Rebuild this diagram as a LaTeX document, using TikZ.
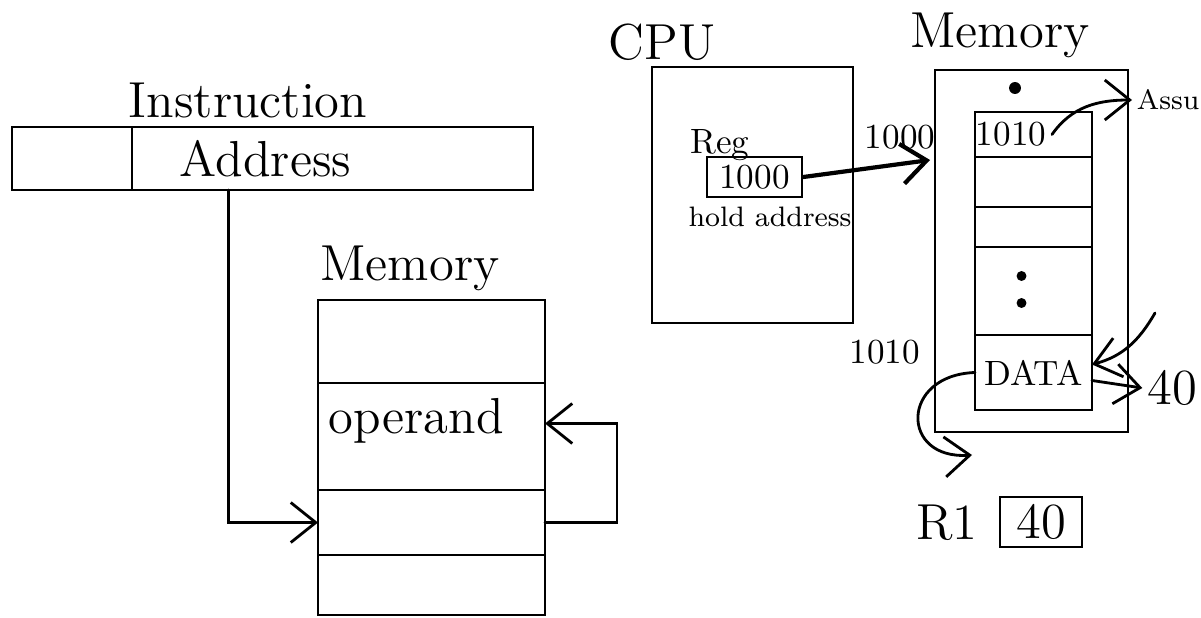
\documentclass[tikz,border=0pt]{standalone}
\usetikzlibrary{positioning, calc, arrows.meta}

\begin{document}
\begin{tikzpicture}[x=1cm, y=1cm, >={Straight Barb[length=2.5mm,width=4mm]}, thick, line cap=round,
    cell/.style={draw, rectangle, inner sep=0pt, outer sep=0pt, font=\Large},
    slot/.style={draw, rectangle, inner sep=0pt, outer sep=0pt, minimum width=1.17cm, font=\normalsize},
    lbl/.style={font=\Large, inner sep=1pt}]
\useasboundingbox (0,0) rectangle (12.01,-6.18);

% Instruction format
\node[lbl] (instr) at (2.48,-1.0) {Instruction};
\node[cell, minimum width=1.2cm, minimum height=0.63cm] (opcode) at (0.72,-1.585) {};
\node[cell, minimum width=4.01cm, minimum height=0.63cm, right=0pt of opcode] (addr) {Address\hspace*{1.34cm}};

% Memory (left)
\node[lbl] (memL) at (4.1,-2.68) {Memory};
\node[cell, minimum width=2.27cm, minimum height=0.83cm] (lc1) at (4.315,-3.415) {};
\node[cell, minimum width=2.27cm, minimum height=1.07cm, below=0pt of lc1] (lc2) {};
\node[cell, minimum width=2.27cm, minimum height=0.65cm, below=0pt of lc2] (lc3) {};
\node[cell, minimum width=2.27cm, minimum height=0.60cm, below=0pt of lc3] (lc4) {};
\node[lbl, anchor=north west] (opnd) at ([xshift=0.06cm,yshift=-0.1cm]lc2.north west) {operand};

\draw[->] ([xshift=-1.04cm]addr.south) |- (lc3.west);
\draw[->] (lc3.east) -- ++(0.72,0) |- ([yshift=0.13cm]lc2.east);

% CPU
\node[lbl] (cpu) at (6.62,-0.42) {CPU};
\node[draw, minimum width=2.01cm, minimum height=2.56cm] (cpubox) at (7.525,-1.95) {};
\node[draw, minimum width=0.95cm, minimum height=0.4cm, inner sep=0pt] (reg) at (7.545,-1.77) {1000};
\node (reglbl) at (7.2,-1.45) {Reg};
\node[font=\footnotesize] (hold) at (7.7,-2.17) {hold address};

% Memory (right)
\node[lbl] (memR) at (10.0,-0.35) {Memory};
\node[draw, minimum width=1.93cm, minimum height=3.62cm] (memout) at (10.315,-2.51) {};
\node[circle, fill, inner sep=1.2pt] (dot0) at (10.15,-0.88) {};
\node[slot, minimum height=0.45cm] (mc1) at (10.335,-1.345) {1010\hspace*{0.45cm}};
\node[slot, minimum height=0.50cm, below=0pt of mc1] (mc2) {};
\node[slot, minimum height=0.40cm, below=0pt of mc2] (mc3) {};
\node[slot, minimum height=0.88cm, below=0pt of mc3] (mgap) {};
\node[slot, minimum height=0.75cm, below=0pt of mgap] (mdata) {DATA};
\node[circle, fill, inner sep=1pt] (dot1) at ([xshift=-0.12cm,yshift=0.15cm]mgap.center) {};
\node[circle, fill, inner sep=1pt] (dot2) at ([xshift=-0.12cm,yshift=-0.12cm]mgap.center) {};

\node[lbl] (a1000) at (9.0,-1.37) {\normalsize 1000};
\coordinate (in1000) at (9.3,-1.6);
\draw[->, very thick] (reg.east) -- (in1000);

\node[anchor=east] (a1010) at (9.33,-3.52) {1010};

\node[font=\footnotesize, anchor=west, inner sep=1pt] (assu) at (11.32,-1.0) {Assu};
\draw[->] ([xshift=-0.4cm]mc1.east) to[out=55,in=180] (assu.west);

\coordinate (datasrc) at (11.55,-3.13);
\draw[->] (datasrc) to[out=240,in=15] ([yshift=0.08cm]mdata.east);
\node[lbl] (v40) at (11.72,-3.88) {40};
\draw[->] ([yshift=-0.08cm]mdata.east) -- (v40.west);

% Register R1
\coordinate (toR1) at (9.72,-4.55);
\draw[->] (mdata.west) .. controls (9.0,-3.75) and (9.0,-4.6) .. (toR1);
\node[lbl] (r1) at (9.47,-5.23) {R1};
\node[cell, minimum width=0.82cm, minimum height=0.5cm] (r1box) at (10.41,-5.22) {40};
\end{tikzpicture}
\end{document}
